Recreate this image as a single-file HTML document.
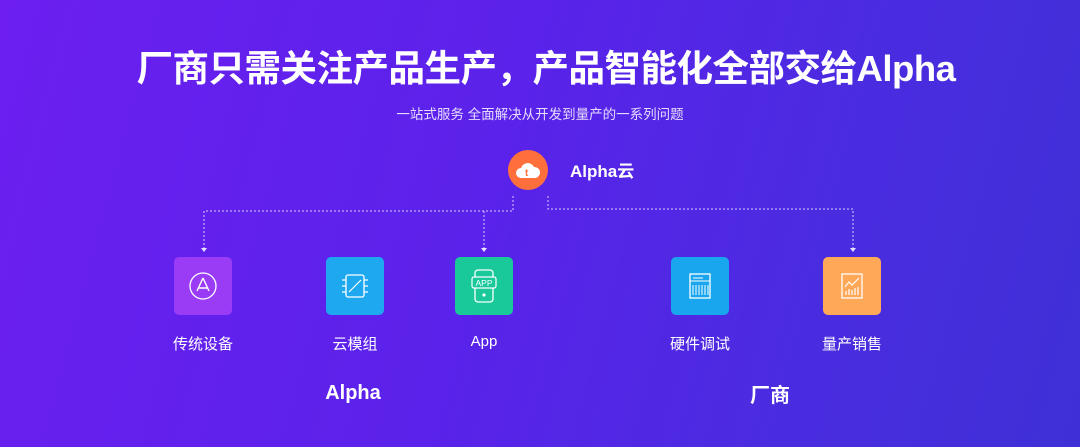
<!DOCTYPE html>
<html><head><meta charset="utf-8"><style>
*{margin:0;padding:0;box-sizing:border-box}
body{width:1080px;height:447px;overflow:hidden;position:relative;font-family:"Liberation Sans","Noto Sans CJK SC",sans-serif;color:#fff;
background:linear-gradient(105deg,#6c1ff0 0%,#5a22ea 45%,#4a2ce0 75%,#3e30d6 100%);}
.t{position:absolute;white-space:nowrap}
.title{left:6px;width:1080px;text-align:center;top:39px;font-size:36.5px;font-weight:bold;letter-spacing:-0.5px}
.sub{left:0;width:1080px;text-align:center;top:103px;font-size:13.5px;color:#e6dcff}
.tile{position:absolute;top:257px;width:58px;height:58px;border-radius:5px;display:flex;align-items:center;justify-content:center}
.lab{position:absolute;top:333px;font-size:15px;width:120px;text-align:center}
.grp{position:absolute;font-size:20px;font-weight:bold;width:120px;text-align:center}
</style></head><body>
<div class="t title">厂商只需关注产品生产，产品智能化全部交给Alpha</div>
<div class="t sub">一站式服务 全面解决从开发到量产的一系列问题</div>
<div style="position:absolute;left:508px;top:150px;width:40px;height:40px;border-radius:50%;background:#ff6f3c;display:flex;align-items:center;justify-content:center">
<svg width="26" height="22" viewBox="0 0 26 22"><path d="M6 19a5 5 0 0 1 0-10 7 7 0 0 1 13-1 5.5 5.5 0 0 1 1 11z" fill="#fff"/><text x="10" y="17" font-size="10" font-weight="bold" fill="#ff6f3c" font-family="Liberation Sans">t</text></svg></div>
<div class="t" style="left:570px;top:157px;font-size:17px;font-weight:bold">Alpha云</div>
<svg style="position:absolute;left:0;top:0" width="1080" height="447">
<g stroke="#d8ccff" stroke-width="1" stroke-dasharray="2,2" fill="none">
<path d="M513 196V211H204V248"/><path d="M484 211V248"/><path d="M548 196V209H853V248"/>
</g>
<g fill="#e8e0ff"><path d="M201 248h6l-3 4z"/><path d="M481 248h6l-3 4z"/><path d="M850 248h6l-3 4z"/></g>
</svg>
<div class="tile" style="left:174px;background:#9a3cf5"><svg width="34" height="34"><circle cx="17" cy="17" r="13" stroke="#fff" stroke-width="1.3" fill="none"/><path d="M17 9l-6 13M17 9l6 13M12 19h10" stroke="#fff" stroke-width="1.4" fill="none"/></svg></div>
<div class="tile" style="left:326px;background:#1ea8f0"><svg width="34" height="34"><rect x="8" y="6" width="18" height="22" rx="2" stroke="#fff" stroke-width="1.3" fill="none"/><path d="M11 23l12-12M4 11h4M4 17h4M4 23h4M26 11h4M26 17h4M26 23h4" stroke="#fff" stroke-width="1.2"/></svg></div>
<div class="tile" style="left:455px;background:#19c99a"><svg width="30" height="36"><rect x="6" y="2" width="18" height="32" rx="3" stroke="#fff" stroke-width="1.3" fill="none"/><rect x="3" y="9" width="24" height="11" rx="2" fill="#19c99a" stroke="#fff" stroke-width="1.2"/><text x="15" y="18" font-size="8.5" text-anchor="middle" fill="#fff" font-family="Liberation Sans">APP</text><circle cx="15" cy="27" r="1.6" fill="#fff"/></svg></div>
<div class="tile" style="left:671px;background:#1aa6ee"><svg width="34" height="34"><rect x="7" y="5" width="20" height="24" stroke="#fff" stroke-width="1.3" fill="none"/><path d="M7 12h20M10 9h10M10 16v10M13 16v10M16 16v10M19 16v10M22 16v10M25 16v10" stroke="#fff" stroke-width="1"/></svg></div>
<div class="tile" style="left:823px;background:#ffa858"><svg width="34" height="34"><rect x="7" y="5" width="20" height="24" stroke="#fff" stroke-width="1.3" fill="none"/><path d="M10 18l4-5 3 3 7-7M11 26v-4M14 26v-6M17 26v-5M20 26v-7M23 26v-8" stroke="#fff" stroke-width="1.2" fill="none"/></svg></div>
<div class="lab" style="left:143px">传统设备</div>
<div class="lab" style="left:295px">云模组</div>
<div class="lab" style="left:424px">App</div>
<div class="lab" style="left:640px">硬件调试</div>
<div class="lab" style="left:792px">量产销售</div>
<div class="grp" style="left:293px;top:382px">Alpha</div>
<div class="grp" style="left:710px;top:379px">厂商</div>
</body></html>
